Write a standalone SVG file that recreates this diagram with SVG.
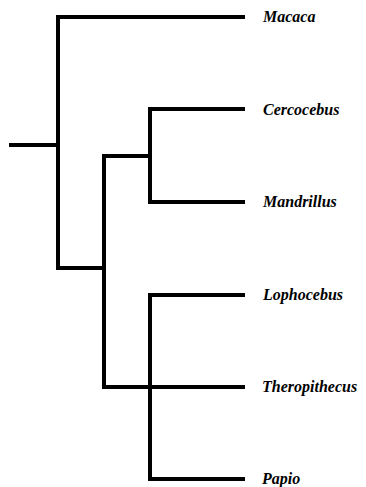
<svg xmlns="http://www.w3.org/2000/svg" width="366" height="487" viewBox="0 0 366 487">
<style>
.e{fill:none;stroke:#000;stroke-width:4;stroke-linecap:square;stroke-linejoin:miter}
.t{font-family:"Liberation Serif","Times New Roman",serif;font-style:italic;font-weight:bold;font-size:16px;fill:#000}
</style>
<rect width="366" height="487" fill="#fff"/>
<g id="connectors">
<path class="e" d="M11 145H58"/>
<path class="e" d="M243 17H58V268H104"/>
<path class="e" d="M104 156H150"/>
<path class="e" d="M243 109H150V202H243"/>
<path class="e" d="M104 156V387H243"/>
<path class="e" d="M243 295H150V479H243"/>
</g>
<g id="macaca"><text class="t" x="263" y="22">Macaca</text></g>
<g id="cercocebus"><text class="t" x="263" y="115">Cercocebus</text></g>
<g id="mandrillus"><text class="t" x="263" y="207">Mandrillus</text></g>
<g id="lophocebus"><text class="t" x="263" y="300">Lophocebus</text></g>
<g id="theropithecus"><text class="t" x="262" y="392">Theropithecus</text></g>
<g id="papio"><text class="t" x="262" y="484">Papio</text></g>
</svg>
